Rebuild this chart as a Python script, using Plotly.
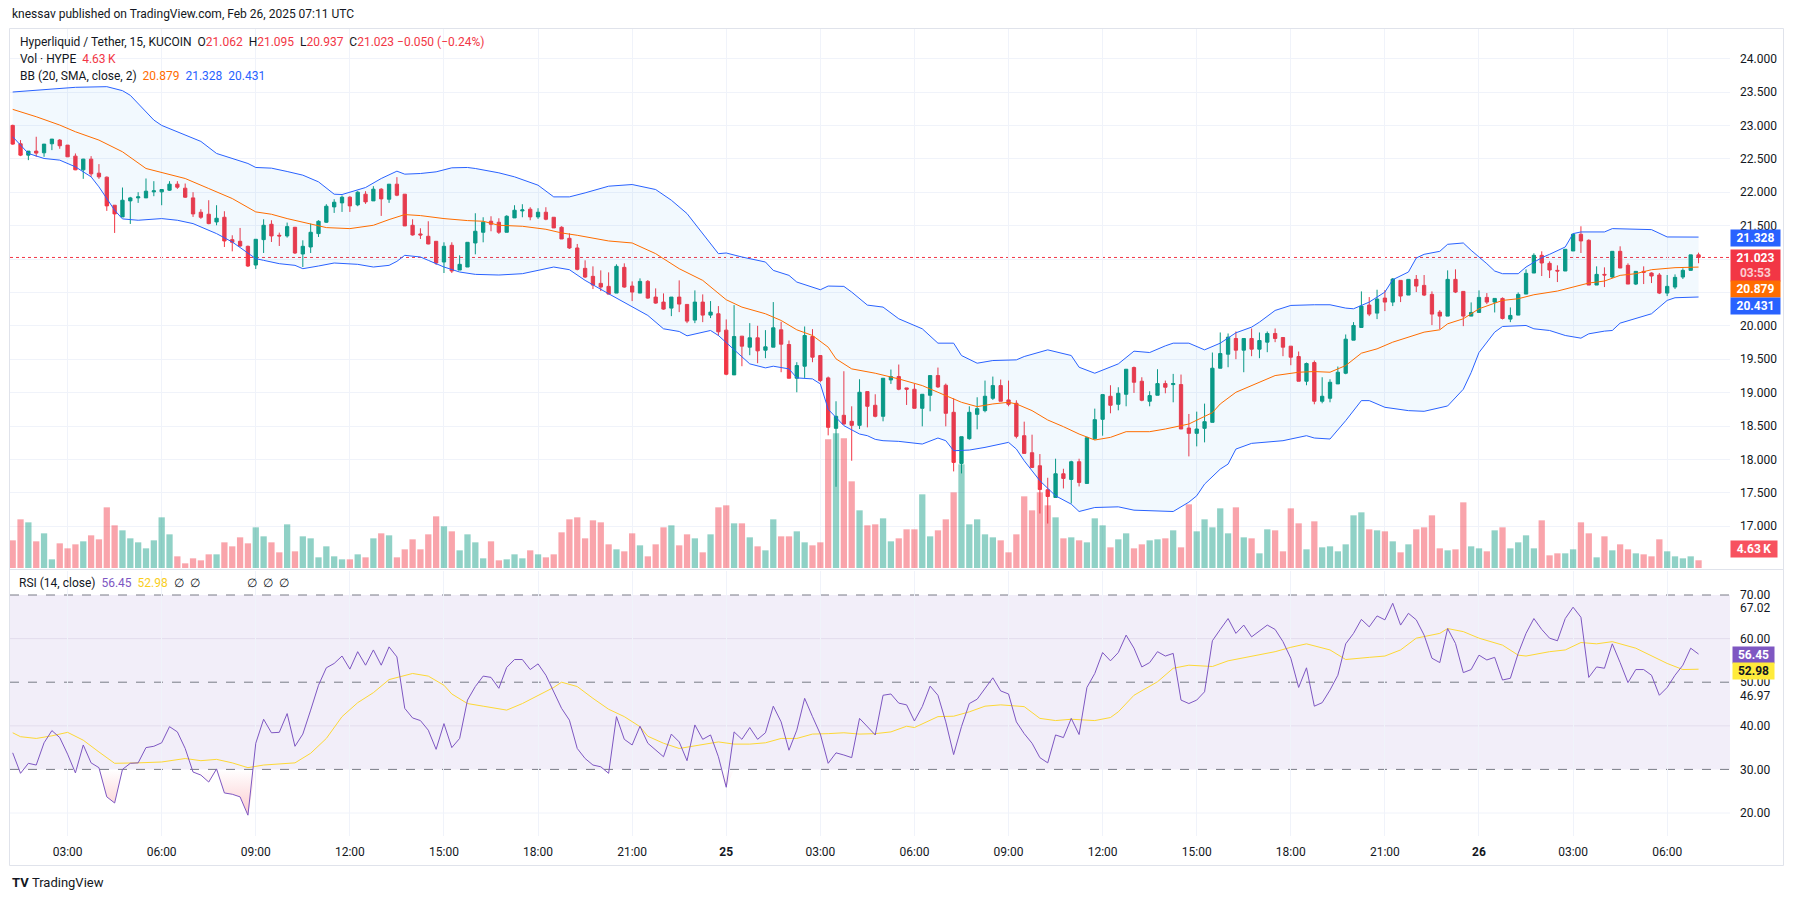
import pandas as pd
import numpy as np
import plotly.graph_objects as go

# ---------------- data ----------------
times = pd.date_range("2025-02-24 01:15", periods=216, freq="15min")

opens = [
 23.00, 22.725, 22.555, 22.615, 22.59, 22.725, 22.78, 22.705, 22.54, 22.335,
 22.495, 22.285, 22.225, 21.805, 21.63, 21.87, 21.915, 21.915, 22.005, 22.005,
 22.03, 22.12, 22.06, 21.915, 21.70, 21.67, 21.555, 21.625, 21.29, 21.265,
 21.19, 20.91, 21.29, 21.52, 21.355, 21.345, 21.475, 21.075, 21.18, 21.38,
 21.55, 21.78, 21.84, 21.925, 21.81, 21.97, 21.87, 22.045, 21.895, 22.12,
 21.97, 21.505, 21.375, 21.34, 21.265, 20.955, 21.205, 20.835, 20.88, 21.24,
 21.40, 21.565, 21.55, 21.40, 21.615, 21.72, 21.745, 21.63, 21.70, 21.625,
 21.475, 21.31, 21.165, 20.86, 20.74, 20.635, 20.59, 20.49, 20.875, 20.595,
 20.49, 20.665, 20.43, 20.355, 20.265, 20.43, 20.32, 20.085, 20.355, 20.16,
 20.18, 19.935, 19.265, 19.845, 19.68, 19.82, 19.635, 19.68, 19.94, 19.72,
 19.215, 19.395, 19.84, 19.555, 19.22, 18.465, 18.66, 18.57, 18.51, 19.015,
 18.81, 18.645, 19.19, 19.24, 19.07, 19.05, 18.765, 18.96, 19.255, 19.11,
 18.705, 17.94, 18.31, 18.675, 18.73, 18.915, 19.105, 18.89, 18.84, 18.355,
 18.10, 17.905, 17.545, 17.43, 17.785, 17.70, 17.965, 17.64, 18.31, 18.60,
 18.945, 18.825, 18.975, 19.375, 19.17, 18.87, 18.96, 19.135, 19.12, 19.12,
 18.47, 18.39, 18.465, 18.555, 19.365, 19.575, 19.81, 19.635, 19.81, 19.65,
 19.755, 19.885, 19.825, 19.695, 19.54, 19.17, 19.45, 18.87, 18.915, 19.13,
 19.29, 19.785, 19.975, 20.31, 20.19, 20.415, 20.355, 20.68, 20.46, 20.695,
 20.605, 20.47, 20.205, 20.145, 20.695, 20.515, 20.145, 20.20, 20.425, 20.355,
 20.41, 20.10, 20.16, 20.475, 20.79, 21.055, 20.935, 20.83, 20.82, 21.12,
 21.37, 21.28, 20.61, 20.77, 20.73, 21.115, 20.905, 20.625, 20.815, 20.79,
 20.76, 20.49, 20.58, 20.73, 20.83, 21.062]

highs = [
 23.01, 22.78, 22.615, 22.83, 22.72, 22.795, 22.795, 22.705, 22.58, 22.50,
 22.54, 22.42, 22.235, 21.805, 22.07, 21.93, 22.0, 22.205, 22.165, 22.04,
 22.165, 22.165, 22.13, 22.0, 21.745, 21.88, 21.805, 21.715, 21.355, 21.465,
 21.20, 21.295, 21.595, 21.58, 21.395, 21.545, 21.48, 21.28, 21.53, 21.58,
 21.82, 21.895, 21.95, 21.94, 22.015, 22.015, 22.09, 22.06, 22.12, 22.225,
 21.97, 21.595, 21.46, 21.565, 21.265, 21.25, 21.25, 21.055, 21.25, 21.685,
 21.625, 21.64, 21.61, 21.655, 21.805, 21.82, 21.775, 21.76, 21.775, 21.625,
 21.49, 21.385, 21.225, 20.98, 20.89, 20.83, 20.80, 20.92, 20.935, 20.665,
 20.71, 20.685, 20.56, 20.485, 20.43, 20.68, 20.32, 20.53, 20.47, 20.37,
 20.295, 20.095, 20.31, 19.845, 20.04, 20.0, 19.935, 20.355, 20.06, 19.78,
 19.455, 19.99, 19.95, 19.555, 19.24, 18.87, 19.32, 18.795, 19.2, 19.015,
 18.975, 19.215, 19.345, 19.42, 19.07, 19.13, 18.975, 19.255, 19.375, 19.135,
 18.915, 18.34, 18.795, 18.93, 19.18, 19.24, 19.195, 19.18, 18.885, 18.565,
 18.37, 18.08, 17.725, 18.01, 17.86, 17.98, 18.01, 18.34, 18.76, 18.97,
 19.11, 19.08, 19.35, 19.39, 19.23, 19.02, 19.35, 19.18, 19.28, 19.27,
 18.68, 18.715, 18.835, 19.60, 19.90, 19.885, 19.915, 19.81, 19.96, 19.90,
 19.915, 19.96, 19.825, 19.695, 19.615, 19.45, 19.48, 19.23, 19.20, 19.39,
 19.87, 20.055, 20.515, 20.43, 20.54, 20.535, 20.715, 20.68, 20.695, 20.76,
 20.76, 20.515, 20.235, 20.83, 20.845, 20.515, 20.35, 20.53, 20.49, 20.41,
 20.425, 20.275, 20.50, 20.845, 21.085, 21.115, 20.965, 20.905, 21.145, 21.385,
 21.49, 21.295, 20.89, 20.875, 21.115, 21.19, 20.935, 20.815, 20.89, 20.80,
 20.79, 20.76, 20.77, 20.86, 21.062, 21.095]

lows = [
 22.71, 22.54, 22.48, 22.53, 22.53, 22.63, 22.65, 22.53, 22.33, 22.20,
 22.23, 22.20, 21.72, 21.39, 21.63, 21.525, 21.84, 21.915, 21.94, 21.805,
 22.02, 22.05, 21.915, 21.63, 21.60, 21.52, 21.505, 21.18, 21.115, 21.18,
 20.88, 20.85, 21.09, 21.255, 21.195, 21.32, 21.075, 20.88, 21.09, 21.33,
 21.54, 21.69, 21.705, 21.705, 21.79, 21.825, 21.87, 21.645, 21.84, 21.94,
 21.495, 21.35, 21.30, 21.22, 20.91, 20.79, 20.79, 20.835, 20.88, 21.07,
 21.25, 21.415, 21.375, 21.40, 21.615, 21.625, 21.58, 21.60, 21.58, 21.465,
 21.30, 21.15, 20.83, 20.715, 20.55, 20.52, 20.47, 20.49, 20.57, 20.37,
 20.49, 20.405, 20.33, 20.24, 20.145, 20.205, 20.04, 20.04, 20.055, 20.115,
 19.85, 19.26, 19.265, 19.395, 19.56, 19.44, 19.515, 19.68, 19.305, 19.215,
 19.005, 19.22, 19.455, 19.155, 18.36, 17.59, 18.52, 17.98, 18.455, 18.48,
 18.63, 18.57, 19.13, 19.035, 18.815, 18.765, 18.495, 18.72, 19.07, 18.495,
 17.82, 17.79, 18.295, 18.45, 18.705, 18.89, 18.87, 18.795, 18.315, 18.09,
 17.87, 17.19, 17.04, 17.43, 17.565, 17.34, 17.595, 17.64, 18.295, 18.355,
 18.69, 18.735, 18.795, 18.995, 18.87, 18.795, 18.96, 18.99, 18.855, 18.455,
 18.045, 18.195, 18.255, 18.555, 19.365, 19.38, 19.50, 19.305, 19.545, 19.515,
 19.605, 19.755, 19.545, 19.41, 19.17, 19.11, 18.825, 18.84, 18.855, 19.13,
 19.275, 19.785, 19.975, 20.145, 20.10, 20.22, 20.295, 20.355, 20.46, 20.505,
 20.445, 20.01, 19.95, 20.145, 20.49, 19.995, 20.145, 20.20, 20.325, 20.20,
 20.095, 20.055, 20.16, 20.475, 20.79, 20.745, 20.715, 20.655, 20.82, 21.12,
 21.09, 20.61, 20.61, 20.58, 20.715, 20.865, 20.625, 20.61, 20.625, 20.64,
 20.475, 20.445, 20.55, 20.70, 20.83, 20.937]

closes = [
 22.72, 22.555, 22.615, 22.585, 22.72, 22.795, 22.695, 22.53, 22.335, 22.495,
 22.275, 22.23, 21.795, 21.675, 21.88, 21.915, 21.93, 22.015, 22.02, 22.04,
 22.12, 22.075, 21.925, 21.675, 21.625, 21.53, 21.61, 21.27, 21.25, 21.195,
 20.895, 21.295, 21.505, 21.345, 21.345, 21.485, 21.09, 21.19, 21.40, 21.565,
 21.79, 21.85, 21.925, 21.795, 22.0, 21.855, 22.045, 21.90, 22.12, 21.955,
 21.495, 21.36, 21.36, 21.225, 20.94, 21.19, 20.82, 20.92, 21.25, 21.415,
 21.55, 21.52, 21.40, 21.64, 21.73, 21.735, 21.63, 21.70, 21.595, 21.465,
 21.30, 21.165, 20.845, 20.73, 20.61, 20.58, 20.475, 20.89, 20.58, 20.505,
 20.665, 20.415, 20.34, 20.25, 20.43, 20.325, 20.07, 20.355, 20.16, 20.205,
 19.91, 19.275, 19.84, 19.695, 19.82, 19.625, 19.685, 19.97, 19.725, 19.215,
 19.405, 19.855, 19.53, 19.18, 18.48, 18.645, 18.53, 18.51, 19.005, 18.795,
 18.645, 19.215, 19.24, 19.05, 19.05, 18.765, 18.975, 19.255, 19.085, 18.69,
 17.955, 18.34, 18.705, 18.76, 18.945, 19.105, 18.87, 18.825, 18.345, 18.09,
 17.88, 17.55, 17.445, 17.785, 17.715, 17.965, 17.655, 18.325, 18.595, 18.97,
 18.81, 18.99, 19.35, 19.155, 18.885, 18.955, 19.135, 19.08, 19.135, 18.455,
 18.39, 18.455, 18.565, 19.365, 19.585, 19.83, 19.635, 19.81, 19.65, 19.78,
 19.885, 19.81, 19.68, 19.53, 19.17, 19.435, 18.87, 18.945, 19.155, 19.305,
 19.80, 20.005, 20.295, 20.175, 20.40, 20.355, 20.70, 20.445, 20.695, 20.595,
 20.46, 20.175, 20.145, 20.695, 20.505, 20.145, 20.20, 20.425, 20.355, 20.41,
 20.11, 20.155, 20.47, 20.785, 21.055, 20.94, 20.835, 20.82, 21.145, 21.37,
 21.27, 20.61, 20.77, 20.76, 21.115, 20.865, 20.625, 20.815, 20.80, 20.745,
 20.49, 20.59, 20.725, 20.83, 21.062, 21.023]

volumes_k = [
 16.6, 29.2, 27.4, 16.0, 20.8, 5.2, 14.8, 11.8, 14.2, 16.0,
 19.6, 17.2, 36.4, 25.6, 22.6, 17.8, 15.4, 11.8, 16.6, 30.4,
 20.2, 7.0, 2.8, 5.8, 4.6, 8.2, 8.2, 15.4, 13.0, 18.4,
 14.8, 24.4, 19.0, 15.4, 9.4, 26.2, 10.0, 19.0, 17.8, 6.4,
 13.0, 7.0, 5.2, 5.2, 8.2, 6.4, 17.8, 20.8, 19.6, 6.4,
 11.2, 17.2, 11.2, 20.2, 31.0, 25.0, 22.0, 10.6, 20.2, 15.4,
 5.8, 16.0, 4.6, 5.2, 8.2, 5.8, 10.6, 8.2, 6.4, 8.2,
 21.4, 29.2, 30.4, 17.8, 28.6, 27.4, 14.2, 11.2, 10.0, 20.8,
 13.6, 7.0, 14.2, 24.4, 25.6, 13.6, 20.2, 17.8, 9.4, 20.2,
 36.4, 37.6, 26.8, 26.8, 18.4, 13.0, 10.6, 29.2, 19.0, 19.0,
 22.0, 15.4, 13.6, 15.4, 77.2, 80.8, 77.8, 52.0, 34.6, 25.6,
 26.2, 29.8, 16.0, 17.8, 23.2, 23.2, 44.2, 19.0, 22.6, 29.2,
 45.4, 62.2, 26.2, 29.2, 20.2, 18.4, 16.6, 9.4, 20.2, 43.0,
 34.6, 45.4, 37.6, 30.4, 17.8, 18.4, 16.6, 15.4, 29.8, 25.6,
 12.4, 17.2, 20.8, 11.8, 14.2, 16.6, 17.2, 17.8, 22.6, 12.4,
 38.2, 22.0, 29.2, 24.4, 35.8, 20.8, 36.4, 18.4, 17.8, 8.8,
 23.2, 22.6, 10.0, 35.8, 26.8, 11.2, 28.0, 12.4, 13.0, 10.0,
 14.2, 31.6, 33.4, 23.2, 22.6, 22.0, 16.0, 9.4, 14.2, 23.2,
 24.4, 31.6, 11.8, 10.6, 11.2, 39.4, 13.0, 11.8, 10.0, 22.6,
 24.4, 11.8, 15.4, 19.6, 11.8, 28.6, 7.6, 8.8, 8.8, 11.2,
 27.4, 20.8, 6.4, 19.0, 10.6, 14.2, 11.2, 8.8, 8.2, 7.0,
 17.2, 10.0, 7.0, 5.8, 7.0, 4.63]

# Bollinger Bands (20, SMA, close, 2) at these candle indices
bb_upper_idx = [0, 4, 8, 12, 14, 15, 16, 17, 18, 19, 22, 24, 26, 28, 30, 31, 33, 35, 37, 39,
                41, 42, 45, 47, 49, 50, 52, 54, 56, 58, 59, 62, 64, 67, 69, 71, 72, 73, 76, 79,
                82, 84, 86, 88, 90, 91, 93, 96, 97, 99, 100, 103, 104, 106, 107, 109, 111, 113, 116, 118,
                120, 121, 123, 125, 128, 129, 132, 135, 136, 138, 141, 143, 145, 147, 148, 150, 152, 154, 156, 158,
                159, 161, 163, 166, 168, 170, 171, 173, 175, 176, 178, 179, 180, 182, 183, 185, 186, 188, 189, 190,
                192, 193, 195, 196, 198, 199, 200, 203, 204, 209, 211, 215]
bb_upper = [23.50, 23.53, 23.57, 23.58, 23.52, 23.45, 23.33, 23.20, 23.08, 23.00, 22.86, 22.76, 22.58, 22.51, 22.43, 22.37, 22.36, 22.31, 22.255, 22.155,
            21.97, 21.965, 22.07, 22.205, 22.315, 22.27, 22.28, 22.305, 22.365, 22.37, 22.355, 22.29, 22.23, 22.105, 21.93, 21.93, 21.955, 21.99, 22.09, 22.115,
            22.04, 21.88, 21.68, 21.38, 21.08, 21.09, 21.03, 20.955, 20.83, 20.755, 20.655, 20.54, 20.595, 20.59, 20.505, 20.31, 20.28, 20.105, 19.955, 19.74,
            19.74, 19.555, 19.44, 19.48, 19.49, 19.54, 19.64, 19.555, 19.38, 19.29, 19.43, 19.62, 19.60, 19.70, 19.74, 19.74, 19.64, 19.74, 19.895, 19.98,
            20.055, 20.23, 20.305, 20.315, 20.315, 20.265, 20.255, 20.355, 20.505, 20.69, 20.805, 21.015, 21.07, 21.115, 21.22, 21.24, 21.13, 20.93, 20.82, 20.78,
            20.78, 20.88, 21.02, 21.07, 21.18, 21.38, 21.405, 21.405, 21.455, 21.44, 21.33, 21.328]

bb_basis_idx = [0, 3, 6, 8, 11, 14, 17, 19, 22, 25, 28, 31, 33, 35, 38, 40, 43, 46, 48, 50,
                52, 55, 58, 60, 62, 65, 68, 70, 72, 76, 79, 82, 85, 88, 91, 93, 96, 98, 100, 102,
                104, 105, 107, 110, 113, 116, 118, 121, 123, 125, 127, 128, 130, 132, 134, 136, 138, 140, 142, 145,
                147, 148, 150, 153, 154, 156, 158, 161, 164, 166, 168, 170, 172, 174, 176, 178, 180, 182, 183, 185,
                187, 190, 192, 194, 197, 199, 201, 203, 205, 207, 209, 212, 215]
bb_basis = [23.24, 23.13, 23.005, 22.905, 22.78, 22.605, 22.355, 22.295, 22.205, 22.055, 21.905, 21.705, 21.67, 21.605, 21.52, 21.47, 21.455, 21.505, 21.59, 21.665,
            21.65, 21.605, 21.575, 21.565, 21.505, 21.49, 21.445, 21.39, 21.355, 21.27, 21.24, 21.08, 20.855, 20.68, 20.39, 20.28, 20.18, 20.08, 19.94, 19.855,
            19.68, 19.505, 19.355, 19.29, 19.205, 19.105, 19.005, 18.855, 18.79, 18.83, 18.855, 18.83, 18.73, 18.59, 18.49, 18.38, 18.29, 18.33, 18.415, 18.415,
            18.455, 18.48, 18.53, 18.70, 18.83, 19.005, 19.105, 19.255, 19.305, 19.315, 19.305, 19.405, 19.59, 19.655, 19.755, 19.83, 19.905, 19.94, 20.03, 20.105,
            20.255, 20.38, 20.405, 20.465, 20.52, 20.58, 20.64, 20.67, 20.755, 20.78, 20.84, 20.87, 20.879]

bb_lower_idx = [0, 2, 4, 6, 8, 10, 11, 13, 14, 16, 19, 21, 23, 25, 26, 28, 30, 31, 32, 34,
                36, 37, 39, 41, 44, 46, 48, 49, 50, 52, 53, 55, 57, 59, 62, 65, 67, 69, 71, 72,
                73, 76, 79, 81, 83, 85, 86, 87, 89, 90, 92, 94, 96, 97, 99, 100, 102, 103, 104, 106,
                108, 109, 110, 111, 113, 116, 118, 119, 120, 122, 124, 127, 128, 129, 131, 133, 135, 136, 138, 141,
                143, 145, 147, 148, 150, 151, 152, 154, 155, 156, 158, 160, 162, 163, 165, 166, 168, 170, 172, 173,
                175, 178, 180, 183, 184, 185, 186, 187, 189, 190, 193, 194, 196, 198, 200, 201, 203, 204, 205, 209,
                211, 212, 215]
bb_lower = [22.83, 22.58, 22.505, 22.48, 22.38, 22.23, 22.08, 21.73, 21.60, 21.58, 21.605, 21.58, 21.53, 21.43, 21.38, 21.255, 21.08, 21.005, 20.98, 20.93,
            20.905, 20.855, 20.895, 20.94, 20.92, 20.88, 20.905, 20.965, 21.055, 21.03, 20.98, 20.88, 20.805, 20.77, 20.76, 20.78, 20.83, 20.88, 20.84, 20.76,
            20.68, 20.48, 20.28, 20.155, 19.955, 19.915, 19.85, 19.88, 19.93, 19.855, 19.64, 19.43, 19.37, 19.395, 19.355, 19.22, 19.205, 19.13, 18.75, 18.505,
            18.38, 18.355, 18.30, 18.28, 18.27, 18.23, 18.32, 18.28, 18.13, 18.14, 18.18, 18.255, 18.155, 17.98, 17.68, 17.455, 17.33, 17.22, 17.28, 17.29,
            17.24, 17.23, 17.22, 17.22, 17.36, 17.455, 17.63, 17.855, 17.93, 18.155, 18.24, 18.265, 18.28, 18.305, 18.355, 18.32, 18.305, 18.58, 18.88, 18.88,
            18.78, 18.73, 18.72, 18.80, 18.93, 19.05, 19.30, 19.60, 19.905, 19.99, 20.005, 19.955, 19.93, 19.855, 19.815, 19.88, 19.92, 19.93, 20.04, 20.18,
            20.38, 20.42, 20.431]

# RSI (14, close), one value per candle
rsi = [
 33.8, 29.1, 31.4, 31.0, 36.1, 38.9, 37.3, 33.5, 29.2, 35.6,
 31.5, 30.4, 23.7, 22.3, 30.0, 31.4, 31.5, 35.0, 35.3, 36.1,
 39.8, 38.6, 34.8, 29.4, 28.7, 27.1, 30.1, 24.6, 24.3, 23.7,
 19.5, 36.0, 41.5, 38.4, 38.5, 42.8, 35.3, 38.1, 43.6, 49.3,
 53.3, 54.3, 56.0, 53.0, 57.0, 53.9, 57.4, 53.9, 58.1, 55.8,
 44.0, 41.8, 41.2, 39.0, 34.6, 40.5, 35.0, 37.1, 45.9, 49.0,
 51.4, 51.1, 48.6, 53.4, 55.2, 55.2, 52.9, 54.2, 51.6, 47.8,
 44.0, 41.3, 34.8, 32.5, 31.0, 30.6, 29.1, 42.1, 36.9, 35.6,
 39.9, 36.0, 34.4, 32.9, 38.1, 36.3, 32.0, 40.2, 36.9, 37.9,
 32.9, 25.9, 38.6, 36.9, 39.6, 36.9, 38.4, 44.5, 40.9, 34.4,
 39.0, 46.3, 42.1, 38.1, 31.4, 33.8, 33.3, 32.7, 41.7, 39.8,
 37.9, 47.0, 47.3, 45.2, 44.8, 41.1, 44.4, 49.1, 47.0, 40.9,
 33.4, 39.8, 45.1, 46.1, 48.6, 51.0, 48.0, 47.3, 40.9, 38.2,
 36.0, 32.7, 31.5, 37.9, 37.3, 41.7, 38.0, 48.8, 52.0, 56.8,
 54.9, 56.8, 60.8, 57.8, 53.5, 54.5, 57.0, 56.0, 56.6, 45.9,
 45.1, 45.9, 47.8, 59.5, 62.1, 64.6, 61.2, 63.1, 60.4, 61.7,
 63.1, 62.1, 59.3, 55.5, 48.8, 53.3, 44.5, 45.3, 48.2, 51.6,
 58.8, 61.2, 64.4, 62.7, 65.2, 64.3, 68.1, 63.1, 65.8, 64.3,
 60.8, 55.5, 54.5, 62.3, 58.9, 52.2, 52.9, 56.2, 55.1, 55.7,
 50.5, 50.9, 56.6, 61.2, 64.6, 62.1, 60.1, 59.5, 64.6, 67.2,
 64.9, 51.1, 53.5, 53.2, 58.8, 54.5, 49.9, 52.9, 52.9, 51.6,
 47.0, 48.8, 51.6, 53.9, 57.8, 56.45]

rsi_ma_idx = [0, 1, 3, 5, 7, 9, 11, 13, 16, 19, 22, 24, 26, 28, 30, 32, 36, 38, 40, 42,
              44, 46, 48, 50, 51, 53, 55, 56, 58, 60, 63, 65, 67, 69, 70, 72, 74, 76, 78, 80,
              81, 83, 85, 88, 90, 92, 94, 96, 98, 100, 102, 104, 106, 108, 110, 112, 114, 115, 118, 120,
              122, 124, 126, 129, 131, 133, 135, 138, 140, 141, 143, 146, 148, 150, 153, 155, 158, 161, 163, 165,
              168, 170, 173, 175, 177, 179, 182, 183, 185, 187, 190, 192, 193, 196, 198, 200, 202, 204, 207, 209,
              211, 213, 215]
rsi_ma = [38.4, 37.5, 37.1, 37.7, 38.5, 36.7, 34.0, 31.4, 31.5, 31.7, 32.5, 32.0, 32.3, 31.5, 30.4, 31.0, 31.5, 33.7, 37.1, 42.1,
          45.3, 47.6, 50.6, 51.6, 52.0, 51.4, 49.3, 47.3, 45.1, 44.5, 43.6, 45.1, 47.0, 48.8, 50.0, 49.0, 46.3, 43.8, 42.1, 39.8,
          37.6, 36.0, 34.8, 35.6, 36.3, 35.8, 35.8, 36.1, 37.1, 37.1, 38.1, 38.2, 38.4, 38.1, 38.2, 38.6, 39.9, 39.6, 42.1, 42.2,
          43.2, 44.5, 44.8, 44.4, 41.7, 41.2, 41.5, 41.2, 41.9, 43.2, 47.0, 50.1, 53.2, 53.9, 53.6, 54.9, 56.0, 57.0, 58.0, 58.8,
          57.4, 55.2, 55.7, 56.0, 57.4, 60.1, 61.2, 62.3, 61.6, 60.1, 58.5, 56.2, 56.0, 57.0, 57.4, 59.1, 58.8, 59.3, 57.8, 56.0,
          54.3, 52.9, 52.98]

tick_times = pd.date_range("2025-02-24 03:00", "2025-02-26 06:00", freq="3h")
tick_labels = ["03:00", "06:00", "09:00", "12:00", "15:00", "18:00", "21:00", "<b>25</b>",
               "03:00", "06:00", "09:00", "12:00", "15:00", "18:00", "21:00", "<b>26</b>",
               "03:00", "06:00"]
price_ticks = [17.0, 17.5, 18.0, 18.5, 19.0, 19.5, 20.0, 20.5, 21.0, 21.5, 22.0, 22.5, 23.0, 23.5, 24.0]
# 20.500 and 21.000 sit behind the price tags in the reference, so their labels are not shown
price_hidden_labels = [20.5, 21.0]
rsi_ticks = [20, 30, 40, 50, 60, 70, 67.02, 46.97]
rsi_tick_text = ["20.00", "30.00", "40.00", "50.00", "60.00", "70.00", "67.02", "46.97"]

last_close = 21.023
bb_last = {"basis": 20.879, "upper": 21.328, "lower": 20.431}

# ---------------- styling / geometry ----------------
UP = "#089981"
DN = "#F23645"
TXT = "#131722"
GRID = "#F0F3FA"
FONT = "Roboto"

# page body has an 8px margin; the figure is sized to fit inside the 1794x901 window
BODY = 8
W, H = 1794 - 2 * BODY, 901 - 2 * BODY
PLOT_L, PLOT_R, PLOT_T, PLOT_B = 10, 1730, 28, 866     # plot area in window pixels
ML = PLOT_L - BODY
MR = (BODY + W) - PLOT_R
MT = PLOT_T - BODY
MB = (BODY + H) - PLOT_B
PW, PH = PLOT_R - PLOT_L, PLOT_B - PLOT_T


def px_x(x):
    return (x - PLOT_L) / PW


def px_y(y):
    return (PLOT_B - y) / PH


vol_colors = ["rgba(8,153,129,0.45)" if c >= o else "rgba(242,54,69,0.45)"
              for o, c in zip(opens, closes)]

fig = go.Figure()

# volume (base axis of the price pane, drawn underneath)
fig.add_trace(go.Bar(x=times, y=volumes_k, marker=dict(color=vol_colors, line=dict(width=0)),
                     width=12 * 60 * 1000, xaxis="x", yaxis="y", hoverinfo="skip"))

# Bollinger bands
fig.add_trace(go.Scatter(x=times[bb_lower_idx], y=bb_lower, mode="lines",
                         line=dict(color="#2962FF", width=1), xaxis="x", yaxis="y3"))
fig.add_trace(go.Scatter(x=times[bb_upper_idx], y=bb_upper, mode="lines",
                         line=dict(color="#2962FF", width=1), fill="tonexty",
                         fillcolor="rgba(33,150,243,0.06)", xaxis="x", yaxis="y3"))
fig.add_trace(go.Scatter(x=times[bb_basis_idx], y=bb_basis, mode="lines",
                         line=dict(color="#FF6D00", width=1), xaxis="x", yaxis="y3"))

# candles
fig.add_trace(go.Candlestick(x=times, open=opens, high=highs, low=lows, close=closes,
                             increasing=dict(line=dict(color=UP, width=1), fillcolor=UP),
                             decreasing=dict(line=dict(color=DN, width=1), fillcolor=DN),
                             xaxis="x", yaxis="y3"))

# RSI pane
rsi_arr = np.array(rsi)
fig.add_trace(go.Scatter(x=times, y=[30] * len(times), mode="lines", line=dict(width=0),
                         xaxis="x2", yaxis="y2", hoverinfo="skip"))
fig.add_trace(go.Scatter(x=times, y=np.minimum(rsi_arr, 30), mode="lines", line=dict(width=0),
                         fill="tonexty",
                         fillgradient=dict(type="vertical", start=18, stop=30,
                                           colorscale=[[0, "rgba(242,54,69,0.30)"],
                                                       [1, "rgba(242,54,69,0.0)"]]),
                         xaxis="x2", yaxis="y2", hoverinfo="skip"))
fig.add_trace(go.Scatter(x=times[rsi_ma_idx], y=rsi_ma, mode="lines",
                         line=dict(color="#FDD835", width=1), xaxis="x2", yaxis="y2"))
fig.add_trace(go.Scatter(x=times, y=rsi, mode="lines",
                         line=dict(color="#7E57C2", width=1), xaxis="x2", yaxis="y2"))

x_range = ["2025-02-24 01:09:51", "2025-02-26 08:00:10"]

price_bot = 568
rsi_top = 571
rsi_bot = 836

shapes = [
    dict(type="rect", xref="x2 domain", yref="y2", x0=0, x1=1, y0=30, y1=70,
         fillcolor="rgba(126,87,194,0.10)", line=dict(width=0), layer="below"),
]
for lvl, col in [(20, "#F0F3FA"), (40, "rgba(120,110,160,0.12)"), (60, "rgba(120,110,160,0.12)")]:
    shapes.append(dict(type="line", xref="x2 domain", yref="y2", x0=0, x1=1, y0=lvl, y1=lvl,
                       line=dict(color=col, width=1), layer="below"))
for lvl in [70, 50, 30]:
    shapes.append(dict(type="line", xref="x2 domain", yref="y2", x0=0, x1=1, y0=lvl, y1=lvl,
                       line=dict(color="#787B86", width=1, dash="dash"), layer="below"))
shapes.append(dict(type="line", xref="paper", yref="y3", x0=0, x1=1, y0=last_close, y1=last_close,
                   line=dict(color=DN, width=1, dash="dot"), layer="below"))
shapes.append(dict(type="line", xref="paper", yref="paper", x0=px_x(10), x1=px_x(1783.5),
                   y0=px_y(569.5), y1=px_y(569.5), line=dict(color="#E0E3EB", width=1)))
shapes.append(dict(type="rect", xref="paper", yref="paper", x0=px_x(9.5), x1=px_x(1783.5),
                   y0=px_y(865.5), y1=px_y(28.5), line=dict(color="#E0E3EB", width=1)))

red = f"<span style='color:{DN}'>"
sp = "\u00a0"
annotations = [
    dict(text="knessav published on TradingView.com, Feb 26, 2025 07:11 UTC",
         x=px_x(10), y=px_y(14), font=dict(size=12, color=TXT)),
    dict(text=("Hyperliquid / Tether, 15, KUCOIN" + sp * 2 +
               "O" + red + "21.062</span>" + sp * 2 +
               "H" + red + "21.095</span>" + sp * 2 +
               "L" + red + "20.937</span>" + sp * 2 +
               "C" + red + "21.023</span>" + sp + red + "\u22120.050 (\u22120.24%)</span>"),
         x=px_x(18), y=px_y(42), font=dict(size=12, color=TXT)),
    dict(text="Vol \u00b7 HYPE" + sp * 2 + red + "4.63\u2009K</span>",
         x=px_x(18), y=px_y(59), font=dict(size=12, color=TXT)),
    dict(text=("BB (20, SMA, close, 2)" + sp * 2 +
               "<span style='color:#FF6D00'>20.879</span>" + sp * 2 +
               "<span style='color:#2962FF'>21.328</span>" + sp * 2 +
               "<span style='color:#2962FF'>20.431</span>"),
         x=px_x(18), y=px_y(76), font=dict(size=12, color=TXT)),
    dict(text=("RSI (14, close)" + sp * 2 +
               "<span style='color:#7E57C2'>56.45</span>" + sp * 2 +
               "<span style='color:#F9CE1D'>52.98</span>" + sp * 2 + "\u2205" + sp * 2 + "\u2205"),
         x=px_x(17), y=px_y(583), font=dict(size=12, color=TXT)),
    dict(text="\u2205" + sp * 2 + "\u2205" + sp * 2 + "\u2205",
         x=px_x(245), y=px_y(583), font=dict(size=12, color=TXT)),
    dict(text="<b>TV</b>" + sp + "TradingView", x=px_x(10), y=px_y(883),
         font=dict(size=13, color=TXT)),
]
for a in annotations:
    a.update(xref="paper", yref="paper", xanchor="left", yanchor="middle", showarrow=False)


def tag(text, ypx, bg, fg="white", h=16, w=49, xc=1755.5):
    return dict(text=text, xref="paper", yref="paper", x=px_x(xc), y=px_y(ypx),
                xanchor="center", yanchor="middle", showarrow=False,
                bgcolor=bg, width=w, height=h, borderpad=0,
                font=dict(size=12, color=fg, family=FONT))


annotations += [
    tag(f"<b>{bb_last['upper']:.3f}</b>", 238.3, "#2962FF"),
    tag(f"<b>{last_close:.3f}</b><br><span style='color:rgba(255,255,255,0.75)'><b>03:53</b></span>",
        265.5, DN, h=31),
    tag(f"<b>{bb_last['basis']:.3f}</b>", 289.3, "#FF6D00"),
    tag(f"<b>{bb_last['lower']:.3f}</b>", 305.8, "#2962FF"),
    tag("<b>4.63\u2009K</b>", 549.0, "#F7525F", w=46, xc=1753.7),
    tag(f"<b>{rsi[-1]:.2f}</b>", 654.7, "#7E57C2", w=41, h=16, xc=1753.3),
    tag(f"<b>{rsi_ma[-1]:.2f}</b>", 671.0, "#FFEB3B", fg=TXT, w=41, h=16, xc=1753.3),
]

fig.update_layout(
    width=W, height=H,
    margin=dict(l=ML, r=MR, t=MT, b=MB),
    paper_bgcolor="white", plot_bgcolor="white",
    showlegend=False, boxgap=0.4,
    font=dict(family=FONT, size=12, color=TXT),
    barmode="overlay",
    xaxis=dict(domain=[0, 1], anchor="y", range=x_range, type="date",
               tickvals=tick_times, showticklabels=False, showgrid=True, gridcolor=GRID,
               zeroline=False, showline=False, rangeslider=dict(visible=False), fixedrange=True),
    xaxis2=dict(domain=[0, 1], anchor="y2", matches="x", type="date",
                tickvals=tick_times, ticktext=tick_labels, showgrid=True, gridcolor=GRID,
                zeroline=False, showline=False, ticks="", ticklabelstandoff=7,
                tickfont=dict(size=12, color=TXT), fixedrange=True),
    yaxis=dict(domain=[px_y(price_bot), 1], anchor="x", range=[0, (price_bot - PLOT_T) * 0.6],
               visible=False, fixedrange=True),
    yaxis3=dict(overlaying="y", anchor="x", side="right",
                range=[24.0 - (price_bot - 58.6) / 66.8, 24.0 + (58.6 - PLOT_T) / 66.8],
                tickvals=price_ticks,
                ticktext=["" if v in price_hidden_labels else f"{v:.3f}" for v in price_ticks],
                showgrid=True, gridcolor=GRID, zeroline=False, showline=False, ticks="",
                ticklabelstandoff=9, tickfont=dict(size=12, color=TXT), fixedrange=True),
    yaxis2=dict(domain=[px_y(rsi_bot), px_y(rsi_top)], anchor="x2", side="right",
                range=[70 - (rsi_bot - 595) / 4.36, 70 + (595 - rsi_top) / 4.36],
                tickvals=rsi_ticks, ticktext=rsi_tick_text, showgrid=False, zeroline=False,
                showline=False, ticks="", ticklabelstandoff=9,
                tickfont=dict(size=12, color=TXT), fixedrange=True),
    shapes=shapes,
    annotations=annotations,
)

fig.write_html("out.html")
